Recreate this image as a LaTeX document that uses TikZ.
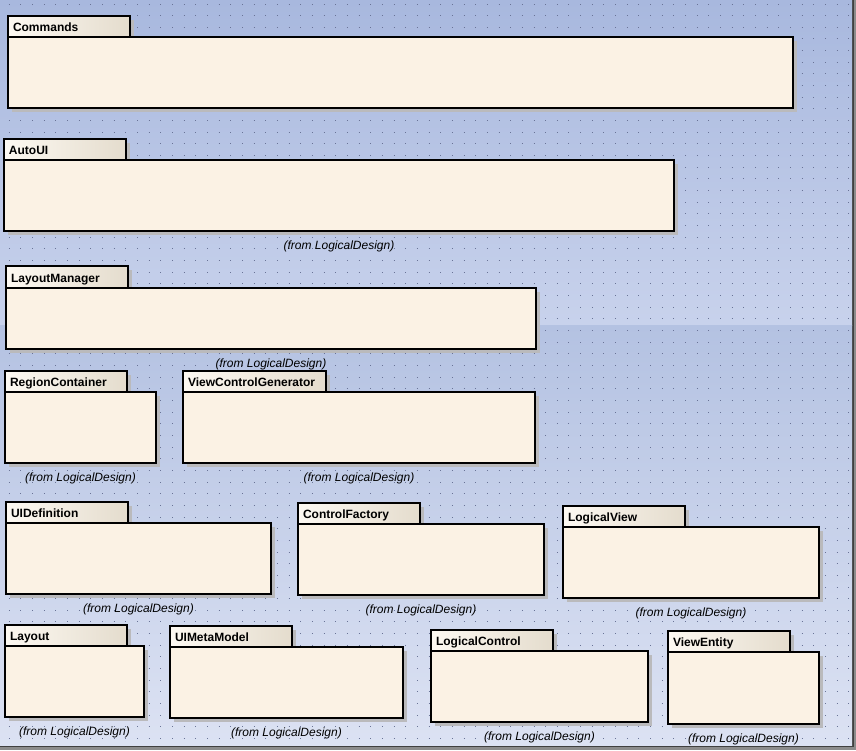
\documentclass[tikz,border=0pt]{standalone}
\usepackage{fontspec}
\setmainfont{Liberation Sans}
\usetikzlibrary{positioning,shadows,calc}
\definecolor{BgTopA}{RGB}{168,184,222}
\definecolor{BgTopB}{RGB}{200,210,236}
\definecolor{BgLowA}{RGB}{180,194,226}
\definecolor{BgLowB}{RGB}{220,226,243}
\definecolor{GridDot}{RGB}{105,115,150}
\definecolor{PkgBody}{RGB}{251,242,228}
\definecolor{TabLeft}{RGB}{253,249,242}
\definecolor{TabRight}{RGB}{228,220,205}
\definecolor{PkgShadow}{RGB}{186,186,188}

\begin{document}
\begin{tikzpicture}[
  x=1pt, y=-1pt,
  tab/.style={draw=black,line width=1.2pt,left color=TabLeft,right color=TabRight,
    anchor=north west,outer sep=0pt,inner xsep=5pt,inner ysep=0pt,minimum height=21pt,
    text width=112pt,text height=10.8pt,text depth=0pt,align=left,
    font=\bfseries\fontsize{12}{12}\selectfont,
    general shadow={fill=PkgShadow,shadow xshift=4pt,shadow yshift=-4pt}},
  tabwide/.style={tab,text width=133pt},
  body/.style={draw=black,line width=1.2pt,fill=PkgBody,anchor=north west,outer sep=0pt,
    inner sep=0pt,minimum height=71pt,
    general shadow={fill=PkgShadow,shadow xshift=4pt,shadow yshift=-4pt}},
  from/.style={below=10pt of #1,inner sep=0pt,font=\itshape\fontsize{12}{13}\selectfont}
]
\useasboundingbox (0,0) rectangle (856,750);
% canvas
\fill[black!45] (0,0) rectangle (856,750);
\fill[black!75] (0,0) rectangle (854,747);
\shade[top color=BgTopA,bottom color=BgTopB] (0,0) rectangle (852,325);
\shade[top color=BgLowA,bottom color=BgLowB] (0,325) rectangle (852,745);
\foreach \r in {0,...,63}
  \draw[GridDot,line width=1pt,dash pattern=on 1pt off 10.66pt] (8.8,4+11.66*\r) -- (852,4+11.66*\r);

% packages
\node[tab] (cmdT) at (8,16) {Commands};
\node[body,minimum width=785pt] (cmdB) at (cmdT.south west) {};

\node[tab] (autouiT) at (4,139) {AutoUI};
\node[body,minimum width=670pt] (autouiB) at (autouiT.south west) {};
\node[from=autouiB] (autouiF) {(from LogicalDesign)};

\node[tab,minimum height=22pt] (layoutmgrT) at (6,266) {LayoutManager};
\node[body,minimum width=530pt,minimum height=61pt] (layoutmgrB) at (layoutmgrT.south west) {};
\node[from=layoutmgrB] (layoutmgrF) {(from LogicalDesign)};

\node[tab] (regionT) at (5,371) {RegionContainer};
\node[body,minimum width=151pt] (regionB) at (regionT.south west) {};
\node[from=regionB] (regionF) {(from LogicalDesign)};

\node[tabwide] (vcgenT) at (183,371) {ViewControlGenerator};
\node[body,minimum width=352pt] (vcgenB) at (vcgenT.south west) {};
\node[from=vcgenB] (vcgenF) {(from LogicalDesign)};

\node[tab] (uidefT) at (6,502) {UIDefinition};
\node[body,minimum width=265pt] (uidefB) at (uidefT.south west) {};
\node[from=uidefB] (uidefF) {(from LogicalDesign)};

\node[tab] (ctrlfacT) at (298,503) {ControlFactory};
\node[body,minimum width=246pt] (ctrlfacB) at (ctrlfacT.south west) {};
\node[from=ctrlfacB] (ctrlfacF) {(from LogicalDesign)};

\node[tab] (logviewT) at (563,506) {LogicalView};
\node[body,minimum width=256pt] (logviewB) at (logviewT.south west) {};
\node[from=logviewB] (logviewF) {(from LogicalDesign)};

\node[tab] (layoutT) at (5,625) {Layout};
\node[body,minimum width=139pt] (layoutB) at (layoutT.south west) {};
\node[from=layoutB] (layoutF) {(from LogicalDesign)};

\node[tab] (uimetaT) at (170,626) {UIMetaModel};
\node[body,minimum width=233pt] (uimetaB) at (uimetaT.south west) {};
\node[from=uimetaB] (uimetaF) {(from LogicalDesign)};

\node[tab] (logctrlT) at (431,630) {LogicalControl};
\node[body,minimum width=217pt] (logctrlB) at (logctrlT.south west) {};
\node[from=logctrlB] (logctrlF) {(from LogicalDesign)};

\node[tab] (ventityT) at (668,631) {ViewEntity};
\node[body,minimum width=151pt,minimum height=72pt] (ventityB) at (ventityT.south west) {};
\node[from=ventityB] (ventityF) {(from LogicalDesign)};
\end{tikzpicture}
\end{document}
